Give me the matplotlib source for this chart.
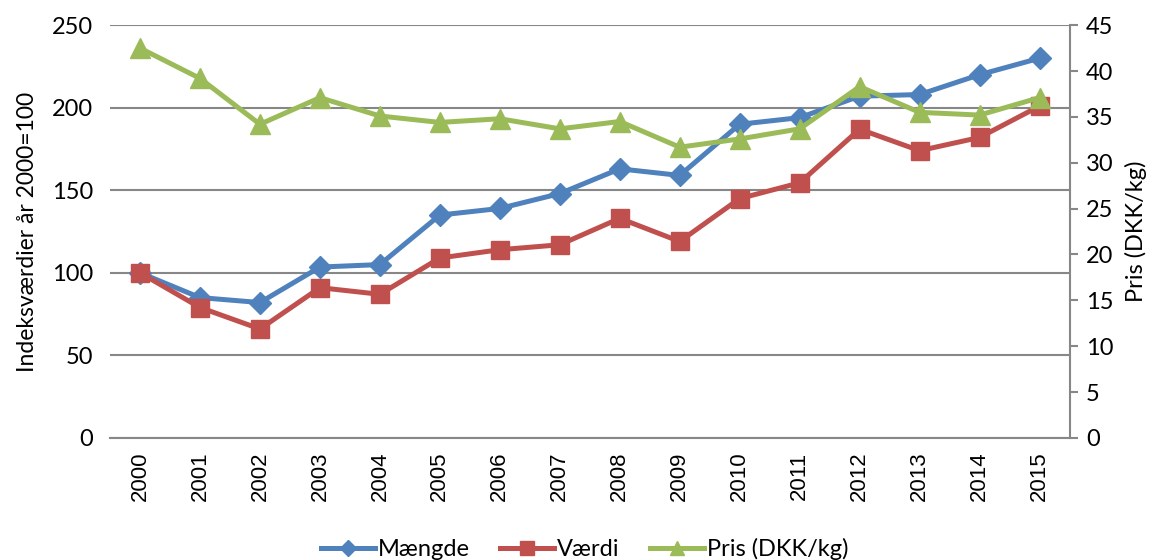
import matplotlib.pyplot as plt

# Data
years = ["2000", "2001", "2002", "2003", "2004", "2005", "2006", "2007",
         "2008", "2009", "2010", "2011", "2012", "2013", "2014", "2015"]
maengde = [100, 85, 82, 103.5, 105, 135, 139, 148, 163, 159, 190, 194, 207, 208, 220, 230]
vaerdi = [100, 79, 66, 91, 87, 109, 114, 117, 133, 119, 145, 154.5, 187, 174, 182, 201]
pris = [42.5, 39.2, 34.2, 37.1, 35.1, 34.4, 34.8, 33.7, 34.5, 31.7, 32.6, 33.7, 38.3, 35.5, 35.2, 37.1]

blue = "#4F81BD"
red = "#C0504D"
green = "#9BBB59"
grid_col = "#878787"
cal = ["Lato", "DejaVu Sans"]

fig = plt.figure(figsize=(11.62, 5.6), dpi=100)
ax = fig.add_axes([0.0947, 0.218, 0.8257, 0.737])
ax2 = ax.twinx()

x = list(range(len(years)))
l1, = ax.plot(x, maengde, color=blue, lw=3.6, marker="D", markersize=11, label="Mængde", zorder=3)
l2, = ax.plot(x, vaerdi, color=red, lw=3.6, marker="s", markersize=13, label="Værdi", zorder=4)
l3, = ax2.plot(x, pris, color=green, lw=3.6, marker="^", markersize=14, label="Pris (DKK/kg)", zorder=5)

ax.set_xlim(-0.5, len(years) - 0.5)
ax.set_ylim(0, 250)
ax.set_yticks(range(0, 251, 50))
ax2.set_ylim(0, 45)
ax2.set_yticks(range(0, 46, 5))

ax.set_xticks(x)
ax.set_xticklabels(years, rotation=90, family="Liberation Sans", fontsize=16)
ax.tick_params(axis="x", length=0, pad=10)
ax.tick_params(axis="y", length=0, pad=12)
for t in ax.get_yticklabels():
    t.set_family(cal)
    t.set_fontsize(17)

ax2.tick_params(axis="y", length=6, width=1.5, color=grid_col, pad=6)
for t in ax2.get_yticklabels():
    t.set_family(cal)
    t.set_fontsize(17)

ax.grid(axis="y", color=grid_col, lw=1.5)
ax.set_axisbelow(True)
for s in ["top", "left", "right"]:
    ax.spines[s].set_visible(False)
    ax2.spines[s].set_visible(False)
ax.spines["bottom"].set_color(grid_col)
ax.spines["bottom"].set_linewidth(1.5)
ax2.spines["bottom"].set_visible(False)
ax2.spines["right"].set_visible(True)
ax2.spines["right"].set_color(grid_col)
ax2.spines["right"].set_linewidth(1.5)

ax.set_ylabel("Indeksværdier år 2000=100", family=cal, fontsize=16.5, labelpad=10)
ax2.set_ylabel("Pris (DKK/kg)", family=cal, fontsize=17, labelpad=8)

fig.legend([l1, l2, l3], ["Mængde", "Værdi", "Pris (DKK/kg)"], loc="center",
           bbox_to_anchor=(0.503, 0.02), ncol=3, frameon=False,
           prop={"family": cal, "size": 17}, handlelength=2.3, columnspacing=1.3,
           handletextpad=0.1, markerscale=0.75)

fig.savefig("out.png", dpi=100)
